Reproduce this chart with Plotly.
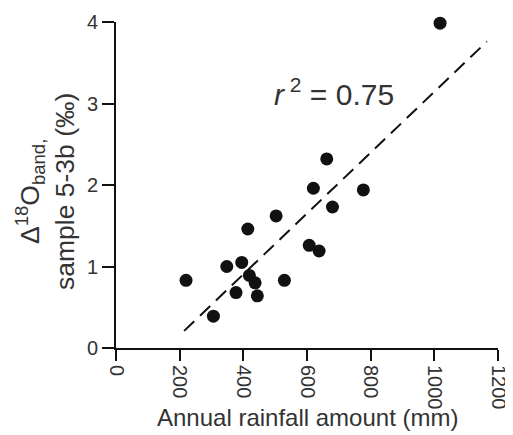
import plotly.graph_objects as go

rainfall = [1018, 220, 306, 348, 377, 395, 414, 419, 437, 444, 503, 529, 607, 638, 620, 662, 680, 777]
delta_o18 = [3.985, 0.83, 0.39, 1.00, 0.68, 1.05, 1.46, 0.89, 0.80, 0.64, 1.62, 0.83, 1.26, 1.19, 1.96, 2.32, 1.73, 1.94]

fit_x = [214, 1165]
fit_y = [0.21, 3.76]

x_ticks = [0, 200, 400, 600, 800, 1000, 1200]
y_ticks = [0, 1, 2, 3, 4]

text_color = "#333333"
font_family = "Liberation Sans, Arial, sans-serif"

fig = go.Figure()
fig.add_trace(go.Scatter(
    x=fit_x, y=fit_y, mode="lines",
    line=dict(color="#111111", width=2, dash="14px,8px"),
    showlegend=False, hoverinfo="skip", cliponaxis=False))
fig.add_trace(go.Scatter(
    x=rainfall, y=delta_o18, mode="markers",
    marker=dict(color="#111111", size=13, line=dict(width=0)),
    showlegend=False, cliponaxis=False))

fig.add_annotation(
    x=685, y=3.14, xref="x", yref="y",
    text="<i>r</i><sup> 2</sup> = 0.75", showarrow=False,
    font=dict(size=30, color=text_color, family=font_family))

# axis titles
fig.add_annotation(
    x=0.5, y=0, xref="paper", yref="paper", xanchor="center", yanchor="middle",
    yshift=-69.5, showarrow=False,
    text="Annual rainfall amount (mm)",
    font=dict(size=24, color=text_color, family=font_family))
fig.add_annotation(
    x=0, y=0.5, xref="paper", yref="paper", xanchor="center", yanchor="middle",
    xshift=-71, yshift=-7, showarrow=False, textangle=-90,
    text="Δ<sup>18</sup>O<sub>band,</sub><br>sample 5-3b (‰)",
    font=dict(size=26.5, color=text_color, family=font_family))

fig.update_layout(
    width=505, height=427,
    margin=dict(l=108, r=15, t=14, b=86.5),
    paper_bgcolor="white", plot_bgcolor="white",
    font=dict(family=font_family, color=text_color),
    xaxis=dict(
        range=[0, 1200], tickvals=x_ticks, ticktext=[str(v) for v in x_ticks],
        tickangle=90, ticks="outside", ticklen=11, tickwidth=2, tickcolor="#111111",
        showline=True, linecolor="#111111", linewidth=2,
        showgrid=False, zeroline=False, automargin=False,
        tickfont=dict(size=20, color=text_color),
    ),
    yaxis=dict(
        range=[0, 4], tickvals=y_ticks, ticktext=[str(v) for v in y_ticks],
        ticks="outside", ticklen=12, tickwidth=2, tickcolor="#111111",
        showline=True, linecolor="#111111", linewidth=2,
        showgrid=False, zeroline=False, automargin=False,
        tickfont=dict(size=20, color=text_color),
    ),
)

fig.write_html("out.html")
